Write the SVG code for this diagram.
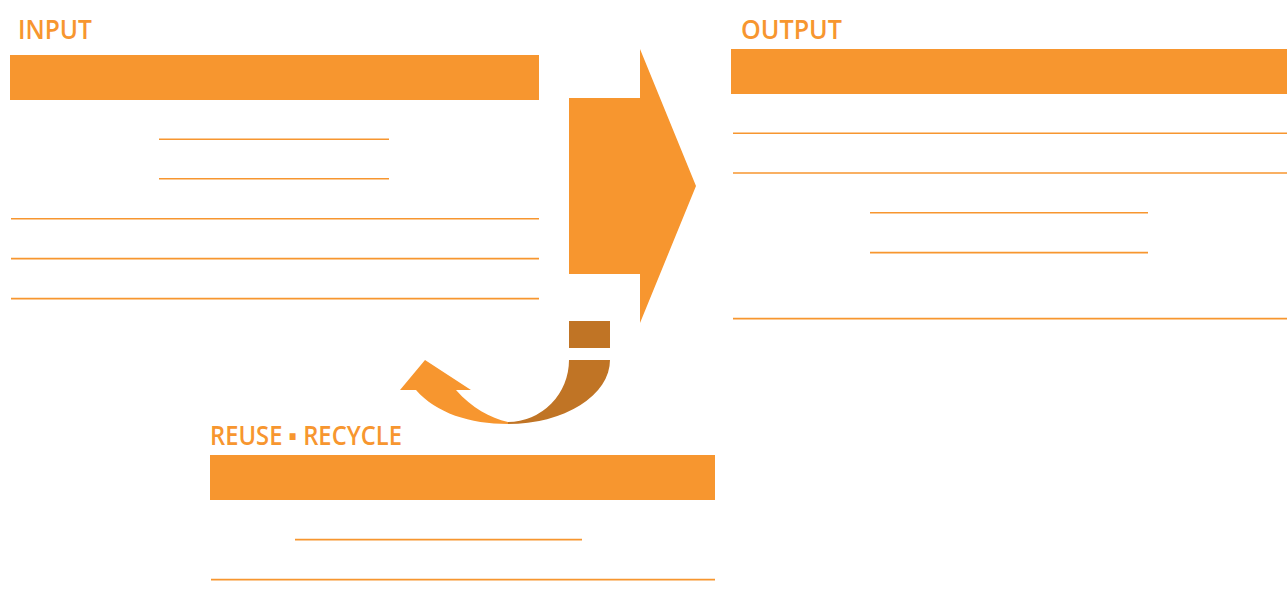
<svg xmlns="http://www.w3.org/2000/svg" width="1287" height="616" viewBox="0 0 1287 616">
<style>
.title{font-family:"Open Sans","Liberation Sans",sans-serif;font-size:27px;fill:#F7962F;font-weight:600}
.bar{fill:#F7962F}
.ln{stroke:#F7962F;stroke-width:1.6;fill:none}
</style>
<rect width="1287" height="616" fill="#ffffff"/>
<g id="input">
<text class="title" x="18" y="39" textLength="74" lengthAdjust="spacingAndGlyphs">INPUT</text>
<rect class="bar" x="10" y="55" width="529" height="45"/>
<line class="ln" x1="159" y1="139.2" x2="389" y2="139.2"/>
<line class="ln" x1="159" y1="178.8" x2="389" y2="178.8"/>
<line class="ln" x1="11" y1="218.8" x2="539" y2="218.8"/>
<line class="ln" x1="11" y1="258.6" x2="539" y2="258.6"/>
<line class="ln" x1="11" y1="298.6" x2="539" y2="298.6"/>
</g>
<g id="output">
<text class="title" x="741" y="39" textLength="101" lengthAdjust="spacingAndGlyphs">OUTPUT</text>
<rect class="bar" x="731" y="49" width="556" height="45"/>
<line class="ln" x1="733" y1="133.2" x2="1287" y2="133.2"/>
<line class="ln" x1="733" y1="173" x2="1287" y2="173"/>
<line class="ln" x1="870" y1="212.8" x2="1148" y2="212.8"/>
<line class="ln" x1="870" y1="252.6" x2="1148" y2="252.6"/>
<line class="ln" x1="733" y1="318.6" x2="1287" y2="318.6"/>
</g>
<g id="reuse">
<text class="title" x="210" y="445" textLength="192" lengthAdjust="spacingAndGlyphs">REUSE ▪ RECYCLE</text>
<rect class="bar" x="210" y="455" width="505" height="45"/>
<line class="ln" x1="295" y1="539.6" x2="582" y2="539.6"/>
<line class="ln" x1="211" y1="579.6" x2="715" y2="579.6"/>
</g>
<g id="connectors">
<path d="M569,98 L640,98 L640,49 L696,186 L640,323 L640,274 L569,274 Z" fill="#F7962F"/>
<rect x="569" y="321" width="41" height="27" fill="#C07425"/>
<path d="M569,360 L610,360 A102,64 0 0 1 508,424 L508,422 A61,62 0 0 0 569,360 Z" fill="#C07425"/>
<path d="M508,424 C470,424 436,413 416,390 L400,390 L425,360 L471,390 L456,390 C472,408 490,418 508,422 Z" fill="#F7962F"/>
</g>
</svg>
